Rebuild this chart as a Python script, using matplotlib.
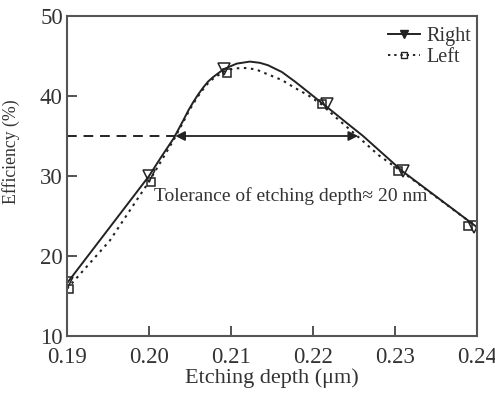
import matplotlib
matplotlib.use("Agg")
import matplotlib.pyplot as plt
from matplotlib.lines import Line2D

plt.rcParams['font.family'] = ['Liberation Serif', 'DejaVu Serif']

# curve points
right_x = [0.190, 0.200, 0.2015, 0.2030, 0.2042, 0.2048, 0.2054, 0.2060, 0.2066, 0.2072, 0.2078,
           0.2091, 0.2107, 0.2123, 0.2135, 0.2145, 0.2162, 0.2178, 0.2194, 0.2211, 0.2227,
           0.2239, 0.2261, 0.2309, 0.2400]
right_y = [16.6, 30.0, 32.4, 34.7, 37.0, 38.2, 39.25, 40.2, 41.05, 41.8, 42.35,
           43.35, 44.05, 44.3, 44.15, 43.85, 43.0, 41.8, 40.5, 39.1, 37.8,
           36.8, 35.0, 30.6, 23.6]
left_x = [0.190, 0.1952, 0.200, 0.2030, 0.2042, 0.2048, 0.2054, 0.2060, 0.2066, 0.2072, 0.2078,
          0.2091, 0.2103, 0.2119, 0.2131, 0.2145, 0.2162, 0.2178, 0.2194, 0.2211, 0.2227,
          0.2255, 0.2280, 0.2309, 0.2400]
left_y = [15.9, 21.9, 29.3, 34.5, 36.8, 38.0, 39.05, 40.0, 40.85, 41.6, 42.15,
          43.05, 43.45, 43.5, 43.3, 42.7, 42.0, 41.0, 40.1, 38.9, 37.4,
          34.9, 32.6, 30.5, 23.6]

# simulated points (markers)
right_mx = [0.1900, 0.2000, 0.2091, 0.2217, 0.2310, 0.2396]
right_my = [16.6, 30.0, 43.4, 39.0, 30.6, 23.6]
left_mx = [0.1903, 0.2002, 0.2095, 0.2211, 0.2304, 0.2389]
left_my = [15.9, 29.3, 42.9, 39.0, 30.6, 23.7]

tol_y = 35.0
tol_lo, tol_hi = 0.2032, 0.2255

ink = '#222222'
fig = plt.figure(figsize=(4.95, 3.94), dpi=100)
ax = fig.add_axes([0.1354, 0.1472, 0.8283, 0.8122])

ax.plot(right_x, right_y, '-', color=ink, lw=1.4)
ax.plot(left_x, left_y, color=ink, lw=1.5, linestyle=(0, (1.2, 2.2)))
ax.plot(right_mx, right_my, 'v', ms=8, mfc='none', mec=ink, mew=1.1, ls='none')
ax.plot(left_mx, left_my, 's', ms=6, mfc='none', mec=ink, mew=1.1, ls='none')

ax.plot([0.19, tol_lo], [tol_y, tol_y], color=ink, lw=1.4, linestyle=(0, (5, 3.5)))
ax.annotate('', xy=(tol_lo, tol_y), xytext=(tol_hi, tol_y),
            arrowprops=dict(arrowstyle='<|-|>', color=ink, lw=1.3,
                            mutation_scale=14, shrinkA=0, shrinkB=0))
ax.text(0.2006, 27.5, 'Tolerance of etching depth\u2248 20 nm', fontsize=14,
        color='#333333', va='center', ha='left')

ax.set_xlim(0.19, 0.24)
ax.set_ylim(10, 50)
ax.set_xticks([0.19, 0.20, 0.21, 0.22, 0.23, 0.24])
ax.set_xticklabels(['0.19', '0.20', '0.21', '0.22', '0.23', '0.24'])
ax.set_yticks([10, 20, 30, 40, 50])
ax.tick_params(direction='in', length=7, width=1.3, colors='#444444',
               labelcolor='#333333', labelsize=16.5, pad=3)
ax.tick_params(axis='x', pad=8)
for s in ax.spines.values():
    s.set_color('#555555')
    s.set_linewidth(1.5)

ax.set_xlabel('Etching depth (\u03bcm)', fontsize=16, color='#333333', labelpad=0)
ax.set_ylabel('Efficiency (%)', fontsize=12.8, color='#333333')
ax.yaxis.set_label_coords(-0.115, 0.575)

handles = [Line2D([], [], color=ink, lw=1.4, marker='v', ms=6, mfc=ink, mec=ink),
           Line2D([], [], color=ink, lw=1.4, linestyle=(0, (1.2, 2)), marker='s', ms=4,
                  mfc='none', mec=ink)]
leg = ax.legend(handles, ['Right', 'Left'], loc='upper right', frameon=False,
                fontsize=14.5, handlelength=1.6, handletextpad=0.3, labelspacing=0.1,
                borderaxespad=0.1, borderpad=0.2, bbox_to_anchor=(1.0, 0.985))
for t in leg.get_texts():
    t.set_color('#333333')

fig.savefig('out.png', dpi=100)
